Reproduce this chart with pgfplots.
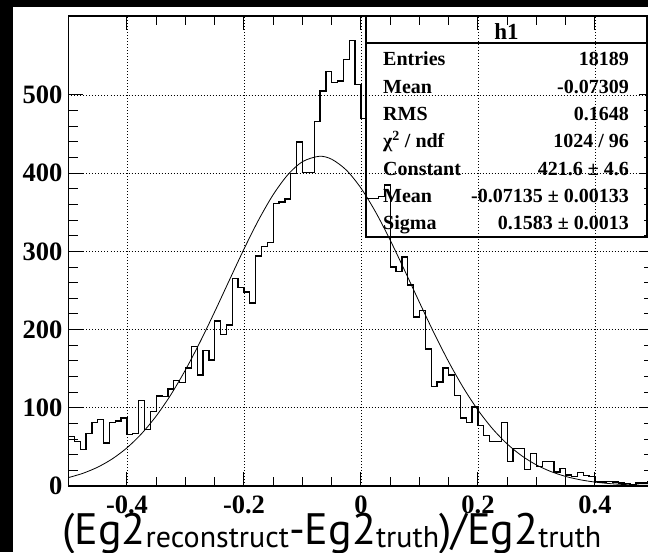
\documentclass[border=0pt]{standalone}
\usepackage{pgfplots}
\pgfplotsset{compat=1.18}
\usepackage{fontspec}
\usepackage{graphicx}
\setmainfont{Liberation Serif}
\newfontfamily\titlefont{PT Sans}
\begin{document}
\begin{tikzpicture}[x=1pt,y=1pt]
\fill[black] (0,0) rectangle (648,552);
\fill[white] (13,0) rectangle (648,545);
\begin{scope}
\clip (13,0) rectangle (648,545);
\begin{axis}[
  scale only axis, width=585pt, height=470pt,
  at={(68.5pt,66pt)}, anchor=south west,
  xmin=-0.5, xmax=0.5, ymin=0, ymax=601,
  xtick={-0.4,-0.2,0,0.2,0.4}, xticklabels={-0.4,-0.2,0,0.2,0.4},
  ytick={0,100,200,300,400,500}, yticklabels={0,100,200,300,400,500},
  minor x tick num=3, minor y tick num=4,
  tick align=inside, major tick length=14pt, minor tick length=9pt,
  grid=major, major grid style={black, line width=0.7pt, dash pattern=on 0.8pt off 2.2pt},
  axis line style={line width=1.2pt},
  every tick/.style={black, line width=1pt},
  tick label style={font=\fontsize{26.5}{26.5}\selectfont\bfseries, inner sep=0pt},
  xticklabel style={anchor=north, yshift=-10pt},
  yticklabel style={anchor=east, xshift=-6pt},
]
\addplot[const plot, black, line width=1.3pt, mark=none] coordinates {
(-0.50,63) (-0.49,57) (-0.48,47) (-0.47,67) (-0.46,81) (-0.45,85) (-0.44,55) (-0.43,81) (-0.42,83) (-0.41,87)
(-0.40,66) (-0.39,67) (-0.38,109) (-0.37,72) (-0.36,95) (-0.35,115) (-0.34,114) (-0.33,124) (-0.32,135) (-0.31,132)
(-0.30,151) (-0.29,178) (-0.28,142) (-0.27,173) (-0.26,161) (-0.25,211) (-0.24,194) (-0.23,206) (-0.22,265) (-0.21,254)
(-0.20,248) (-0.19,234) (-0.18,294) (-0.17,306) (-0.16,311) (-0.15,361) (-0.14,363) (-0.13,367) (-0.12,400) (-0.11,440)
(-0.10,401) (-0.09,401) (-0.08,466) (-0.07,505) (-0.06,530) (-0.05,516) (-0.04,518) (-0.03,545) (-0.02,570) (-0.01,513)
(0.00,470) (0.01,368) (0.02,368) (0.03,370) (0.04,385) (0.05,280) (0.06,274) (0.07,293) (0.08,257) (0.09,216)
(0.10,224) (0.11,175) (0.12,127) (0.13,133) (0.14,151) (0.15,142) (0.16,116) (0.17,87) (0.18,81) (0.19,101)
(0.20,77) (0.21,65) (0.22,57) (0.23,57) (0.24,81) (0.25,31) (0.26,48) (0.27,48) (0.28,21) (0.29,42)
(0.30,25) (0.31,31) (0.32,31) (0.33,18) (0.34,22) (0.35,14) (0.36,12) (0.37,17) (0.38,13) (0.39,12)
(0.40,6) (0.41,5) (0.42,6) (0.43,5) (0.44,4) (0.45,3) (0.46,2) (0.47,4) (0.48,4) (0.49,5) (0.50,5)
};
\addplot[smooth, black, line width=0.8pt, mark=none] coordinates {
(-0.5,10.78) (-0.475,16.33) (-0.45,24.13) (-0.425,34.76) (-0.4,48.86) (-0.375,66.98) (-0.35,89.55) (-0.325,116.78) (-0.3,148.55) (-0.275,184.30) (-0.25,223.01) (-0.225,263.22) (-0.2,303.02) (-0.175,340.26) (-0.15,372.65) (-0.125,398.07) (-0.1,414.75) (-0.07135,421.6) (-0.05,417.78) (-0.025,403.91) (0,380.88) (0.025,350.31) (0.05,314.27) (0.075,274.98) (0.1,234.68) (0.125,195.35) (0.15,158.61) (0.175,125.61) (0.2,97.02) (0.225,73.09) (0.25,53.71) (0.275,38.50) (0.3,26.91) (0.325,18.35) (0.35,12.20) (0.375,7.92) (0.4,5.01) (0.425,3.09) (0.45,1.86) (0.475,1.09) (0.5,0.63)
};
\end{axis}
\end{scope}
% stats box
\draw[line width=1.2pt] (366,315) rectangle (647,536);
\draw[line width=1.2pt] (366,509) -- (647,509);
\node[anchor=base, inner sep=0pt, font=\fontsize{23}{23}\selectfont\bfseries] at (506.5,512) {h1};
\begin{scope}[every node/.style={inner sep=0pt, font=\fontsize{20}{20}\selectfont\bfseries}]
\node[anchor=base west] at (383,486) {Entries};
\node[anchor=base east] at (629,486) {18189};
\node[anchor=base west] at (383,458.7) {Mean};
\node[anchor=base east] at (629,458.7) {-0.07309};
\node[anchor=base west] at (383,431.4) {RMS};
\node[anchor=base east] at (629,431.4) {0.1648};
\node[anchor=base west] at (383,404.1) {χ\textsuperscript{2} / ndf};
\node[anchor=base east] at (629,404.1) {1024 / 96};
\node[anchor=base west] at (383,376.8) {Constant};
\node[anchor=base east] at (629,376.8) {421.6 ± 4.6};
\node[anchor=base west] at (383,349.5) {Mean};
\node[anchor=base east] at (629,349.5) {-0.07135 ± 0.00133};
\node[anchor=base west] at (383,322.2) {Sigma};
\node[anchor=base east] at (629,322.2) {0.1583 ± 0.0013};
\end{scope}
% x title
\node[anchor=base west, inner sep=0pt] at (62,8) {\titlefont\fontsize{44}{44}\selectfont (Eg2\raisebox{-3pt}{\fontsize{30}{30}\selectfont reconstruct}-Eg2\raisebox{-3pt}{\fontsize{30}{30}\selectfont truth})/Eg2\raisebox{-3pt}{\fontsize{30}{30}\selectfont truth}};
\pgfresetboundingbox
\useasboundingbox (0,0) rectangle (648,552);
\end{tikzpicture}
\end{document}
